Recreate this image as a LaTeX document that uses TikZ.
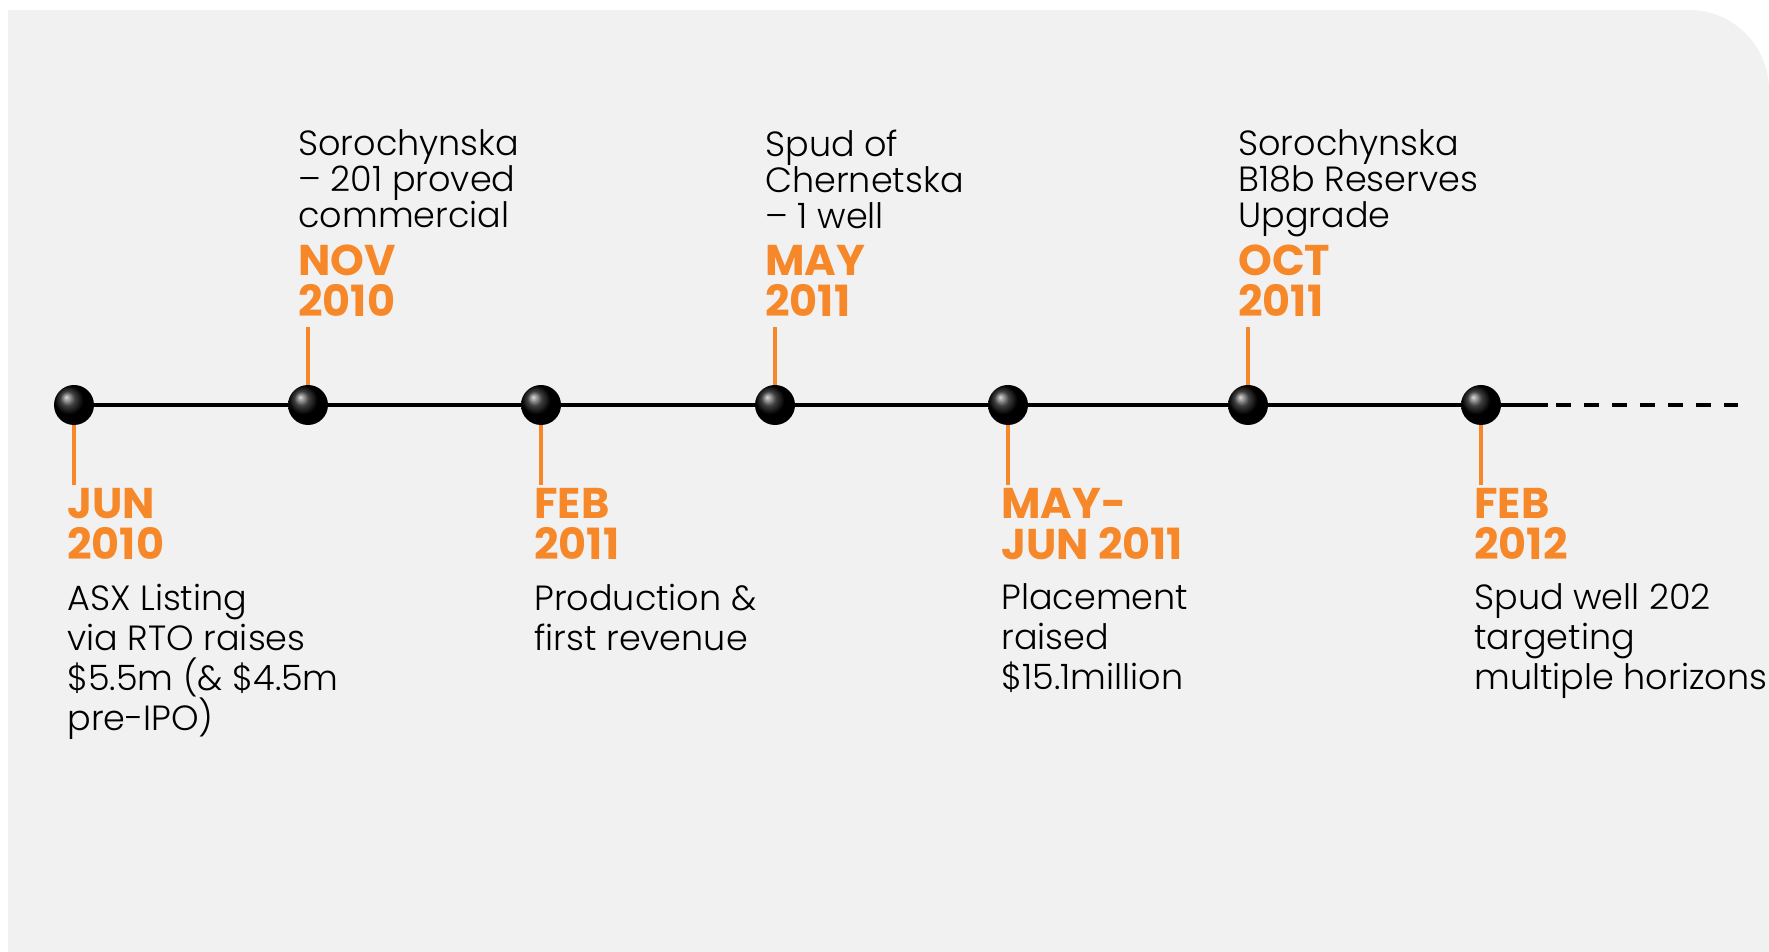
\documentclass[tikz,border=0pt]{standalone}
\usepackage{fontspec}
\setmainfont{Poppins}[UprightFont=* Light, BoldFont=* Bold]
\usepackage{xcolor}
\usepackage{tikz}
\usetikzlibrary{positioning}

\definecolor{panelgrey}{HTML}{F1F1F1}
\definecolor{dateorange}{HTML}{F6882A}

\begin{document}
\begin{tikzpicture}[x=0.5pt,y=0.5pt,
        dot/.style={circle, minimum size=20pt, inner sep=0pt, shading=ball, ball color=black},
        tick/.style={dateorange, line width=1.7pt},
        date/.style={text=dateorange, font=\bfseries\fontsize{21.5}{20.5}\selectfont, align=left, inner sep=0pt},
        updesc/.style={font=\fontsize{17.5}{18}\selectfont, align=left, inner sep=0pt, text depth=0pt},
        downdesc/.style={font=\fontsize{17.5}{20}\selectfont, align=left, inner sep=0pt}]
        \useasboundingbox (0,0) rectangle (1769,952);
        % Fondo gris con la esquina superior derecha redondeada
        \fill[panelgrey] (8,0) -- (8,942) -- (1689,942) arc[start angle=90, end angle=0, radius=80] -- (1769,0) -- cycle;
        % Línea del tiempo: tramo continuo y tramo discontinuo
        \coordinate (linestart) at (74,547);
        \coordinate (solidend) at (1548,547);
        \coordinate (dashstart) at (1556,547);
        \coordinate (dashend) at (1738,547);
        \draw[line width=2pt] (linestart) -- (solidend);
        \draw[line width=2pt, dash pattern=on 7.5pt off 6.5pt] (dashstart) -- (dashend);
        % Hitos
        \node[dot] (d1) at (74,547) {};
        \node[dot] (d2) at (308,547) {};
        \node[dot] (d3) at (541,547) {};
        \node[dot] (d4) at (775,547) {};
        \node[dot] (d5) at (1008,547) {};
        \node[dot] (d6) at (1248,547) {};
        \node[dot] (d7) at (1481,547) {};
        % Marcas naranjas hacia arriba
        \draw[tick] (d2.north) -- ++(0,58) coordinate (t2);
        \draw[tick] (d4.north) -- ++(0,58) coordinate (t4);
        \draw[tick] (d6.north) -- ++(0,58) coordinate (t6);
        % Marcas naranjas hacia abajo
        \draw[tick] (d1.south) -- ++(0,-60) coordinate (t1);
        \draw[tick] (d3.south) -- ++(0,-60) coordinate (t3);
        \draw[tick] (d5.south) -- ++(0,-60) coordinate (t5);
        \draw[tick] (d7.south) -- ++(0,-60) coordinate (t7);
        % Fechas y textos de arriba
        \node[date, anchor=south west] (n2) at ([xshift=-5pt, yshift=5pt]t2) {NOV\\2010};
        \node[updesc, above=8pt of n2.north west, anchor=south west] (e2) {Sorochynska\\– 201 proved\\commercial};
        \node[date, anchor=south west] (n4) at ([xshift=-5pt, yshift=5pt]t4) {MAY\\2011};
        \node[updesc, above=8pt of n4.north west, anchor=south west] (e4) {Spud of\\Chernetska\\– 1 well};
        \node[date, anchor=south west] (n6) at ([xshift=-5pt, yshift=5pt]t6) {OCT\\2011};
        \node[updesc, above=8pt of n6.north west, anchor=south west] (e6) {Sorochynska\\B18b Reserves\\Upgrade};
        % Fechas y textos de abajo
        \node[date, anchor=north west] (n1) at ([xshift=-3.5pt, yshift=-1.5pt]t1) {JUN\\2010};
        \node[downdesc, below=11.5pt of n1.south west, anchor=north west] (e1) {ASX Listing\\via RTO raises\\\$5.5m (\& \$4.5m\\pre-IPO)};
        \node[date, anchor=north west] (n3) at ([xshift=-3.5pt, yshift=-1.5pt]t3) {FEB\\2011};
        \node[downdesc, below=11.5pt of n3.south west, anchor=north west] (e3) {Production \&\\first revenue};
        \node[date, anchor=north west] (n5) at ([xshift=-3.5pt, yshift=-1.5pt]t5) {MAY-\\JUN 2011};
        \node[downdesc, below=11.5pt of n5.south west, anchor=north west] (e5) {Placement\\raised\\\$15.1million};
        \node[date, anchor=north west] (n7) at ([xshift=-3.5pt, yshift=-1.5pt]t7) {FEB\\2012};
        \node[downdesc, below=11.5pt of n7.south west, anchor=north west] (e7) {Spud well 202\\targeting\\multiple horizons};
    \end{tikzpicture}
\end{document}
